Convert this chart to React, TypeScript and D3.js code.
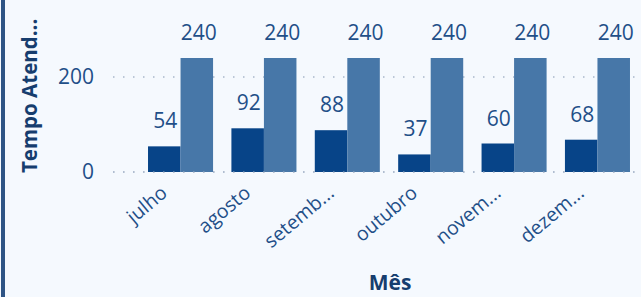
import React from "react";
import * as d3 from "d3";

const months = ["julho", "agosto", "setemb...", "outubro", "novem...", "dezem..."];
const seriesA = [54, 92, 88, 37, 60, 68];
const seriesB = [240, 240, 240, 240, 240, 240];
const yTicks = [0, 200];

const W = 641;
const H = 297;
const FONT = "'Open Sans', 'Noto Sans', sans-serif";

export default function App() {
  const x = d3
    .scaleBand<string>()
    .domain(months)
    .range([113, 665])
    .paddingInner(0.22)
    .paddingOuter(0.42)
    .align(0.5);
  const y = d3.scaleLinear().domain([0, 200]).range([172, 77]);
  const sub = d3
    .scaleBand<string>()
    .domain(["a", "b"])
    .range([0, x.bandwidth()]);

  return (
    <svg
      width={W}
      height={H}
      style={{ position: "fixed", left: 0, top: 0, background: "#f5f9fe" }}
    >
      <rect x={0} y={0} width={W} height={H} fill="#f5f9fe" />
      <rect x={1} y={0} width={4} height={H} fill="#2e5485" />
      {yTicks.map((t) => (
        <line
          key={"g" + t}
          x1={113}
          x2={636}
          y1={y(t)}
          y2={y(t)}
          stroke="#a8b7cb"
          strokeWidth={1.5}
          strokeDasharray="1.5 8.5"
        />
      ))}
      {months.map((m, i) => (
        <g key={m} transform={`translate(${x(m)},0)`}>
          <rect
            x={sub("a")}
            y={y(seriesA[i])}
            width={sub.bandwidth()}
            height={y(0) - y(seriesA[i])}
            fill="#074488"
          />
          <rect
            x={sub("b")}
            y={y(seriesB[i])}
            width={sub.bandwidth()}
            height={y(0) - y(seriesB[i])}
            fill="#4777a8"
          />
          <text
            x={(sub("a") as number) + sub.bandwidth() / 2 + 1}
            y={y(seriesA[i]) - 18}
            textAnchor="middle"
            fontFamily={FONT}
            fontSize={21}
            fill="#1f4f88"
          >
            {seriesA[i]}
          </text>
          <text
            x={(sub("b") as number) + sub.bandwidth() / 2 + 2}
            y={y(seriesB[i]) - 18}
            textAnchor="middle"
            fontFamily={FONT}
            fontSize={21}
            fill="#1f4f88"
          >
            {seriesB[i]}
          </text>
        </g>
      ))}
      <line
        x1={113}
        x2={636}
        y1={y(0)}
        y2={y(0)}
        stroke="#a8b7cb"
        strokeWidth={1.5}
        strokeDasharray="1.5 8.5"
        opacity={0.7}
      />
      {yTicks.map((t) => (
        <text
          key={"t" + t}
          x={94}
          y={y(t)}
          dy="0.35em"
          textAnchor="end"
          fontFamily={FONT}
          fontSize={21}
          fill="#1f4f88"
        >
          {t}
        </text>
      ))}
      {months.map((m) => {
        const cx = (x(m) as number) + x.bandwidth() / 2 - 12;
        const cy = 195;
        return (
          <text
            key={"x" + m}
            transform={`translate(${cx},${cy}) rotate(-40)`}
            textAnchor="end"
            fontFamily={FONT}
            fontSize={19.5}
            fill="#1f4f88"
          >
            {m}
          </text>
        );
      })}
      <text
        transform={`translate(37,173) rotate(-90)`}
        textAnchor="start"
        fontFamily={FONT}
        fontSize={20.5}
        fontWeight="bold"
        fill="#163d6e"
      >
        Tempo Atend...
      </text>
      <text
        x={390}
        y={290}
        textAnchor="middle"
        fontFamily={FONT}
        fontSize={21}
        fontWeight="bold"
        fill="#163d6e"
      >
        Mês
      </text>
    </svg>
  );
}
